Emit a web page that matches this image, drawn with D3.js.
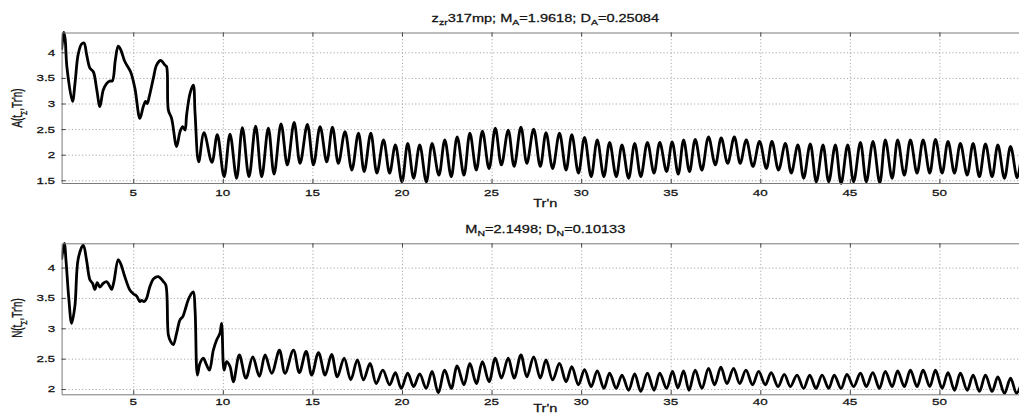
<!DOCTYPE html>
<html>
<head>
<meta charset="utf-8">
<script src="https://cdn.jsdelivr.net/npm/d3@7"></script>
<style>
  html, body { margin: 0; padding: 0; background: #fff; }
  svg { display: block; }
  text { font-family: "Liberation Sans", Arial, Helvetica, sans-serif; fill: #111; stroke: #111; stroke-width: 0.25px; }
</style>
</head>
<body>
<svg id="chart" width="1019" height="413"></svg>
<script>
// ---- data -------------------------------------------------------------
const xTicks = [5, 10, 15, 20, 25, 30, 35, 40, 45, 50];
const yTicksA = [1.5, 2, 2.5, 3, 3.5, 4];
const yTicksN = [2, 2.5, 3, 3.5, 4];

// A(tΣ, Tr'n)
const trnA = [
  1.00, 1.08, 1.13, 1.20, 1.30, 1.61, 1.75, 1.92, 2.11, 2.25, 2.40, 2.58, 2.77, 2.95, 3.14,
  3.32, 3.51, 3.70, 3.83, 4.00, 4.16, 4.30, 4.53, 4.85, 5.09, 5.37, 5.56, 5.69, 5.78, 5.89,
  6.12, 6.30, 6.53, 6.77, 6.86, 6.96, 7.14, 7.42, 7.61, 7.76, 7.89, 7.98, 8.17, 8.35, 8.45,
  8.65, 8.95, 9.39, 9.69, 10.07, 10.40, 10.77, 11.09, 11.46, 11.83, 12.17, 12.54, 12.86, 13.25, 13.60,
  13.98, 14.31, 14.72, 15.06, 15.43, 15.80, 16.12, 16.45, 16.82, 17.20, 17.57, 17.89, 18.26, 18.60, 18.97,
  19.31, 19.63, 20.00, 20.32, 20.65, 20.99, 21.36, 21.68, 22.06, 22.39, 22.75, 23.08, 23.46, 23.79, 24.15,
  24.49, 24.86, 25.21, 25.55, 25.93, 26.26, 26.64, 26.97, 27.35, 27.72, 28.04, 28.41, 28.79, 29.16, 29.48,
  29.85, 30.19, 30.56, 30.90, 31.27, 31.59, 31.96, 32.28, 32.65, 32.99, 33.33, 33.70, 34.07, 34.39, 34.77,
  35.08, 35.42, 35.72, 36.05, 36.37, 36.74, 37.11, 37.49, 37.82, 38.18, 38.55, 38.88, 39.22, 39.59, 39.96,
  40.34, 40.65, 41.02, 41.40, 41.73, 42.10, 42.42, 42.79, 43.13, 43.50, 43.82, 44.19, 44.51, 44.88, 45.21,
  45.59, 45.92, 46.29, 46.67, 46.98, 47.36, 47.67, 48.04, 48.38, 48.75, 49.09, 49.46, 49.78, 50.15, 50.48,
  50.84, 51.17, 51.55, 51.88, 52.23, 52.57, 52.94, 53.26, 53.63, 53.97, 54.34, 54.60
];
const ampA = [
  4.05, 4.30, 4.39, 4.25, 3.70, 3.04, 3.40, 3.95, 4.16, 4.18, 3.95, 3.69, 3.62, 3.30, 2.94,
  3.26, 3.39, 3.44, 3.44, 3.85, 4.12, 4.05, 3.82, 3.62, 3.30, 2.71, 2.94, 3.04, 3.00, 3.13,
  3.49, 3.75, 3.84, 3.75, 3.72, 2.87, 2.71, 2.16, 2.45, 2.55, 2.48, 2.78, 3.20, 3.36, 2.81,
  1.86, 2.43, 1.85, 2.39, 1.57, 2.40, 1.54, 2.53, 1.57, 2.56, 1.57, 2.52, 1.62, 2.60, 1.80,
  2.63, 1.83, 2.59, 1.80, 2.55, 1.86, 2.54, 1.83, 2.45, 1.70, 2.42, 1.67, 2.42, 1.64, 2.29,
  1.64, 2.19, 1.47, 2.22, 1.54, 2.19, 1.47, 2.22, 1.60, 2.29, 1.57, 2.35, 1.60, 2.42, 1.70,
  2.46, 1.73, 2.52, 1.80, 2.48, 1.77, 2.54, 1.83, 2.50, 1.77, 2.43, 1.73, 2.42, 1.70, 2.39,
  1.64, 2.34, 1.57, 2.29, 1.57, 2.24, 1.57, 2.19, 1.54, 2.22, 1.57, 2.24, 1.64, 2.24, 1.67,
  2.25, 1.62, 2.29, 1.67, 2.30, 1.70, 2.35, 1.80, 2.33, 1.83, 2.35, 1.83, 2.29, 1.77, 2.26,
  1.73, 2.26, 1.70, 2.22, 1.64, 2.19, 1.54, 2.21, 1.47, 2.19, 1.47, 2.19, 1.44, 2.19, 1.47,
  2.24, 1.47, 2.26, 1.45, 2.29, 1.54, 2.29, 1.60, 2.29, 1.64, 2.29, 1.64, 2.30, 1.64, 2.26,
  1.64, 2.22, 1.60, 2.22, 1.57, 2.21, 1.57, 2.19, 1.54, 2.16, 1.55, 2.05
];

// N(tΣ, Tr'n)
const trnN = [
  1.00, 1.15, 1.25, 1.40, 1.56, 1.74, 1.93, 2.21, 2.39, 2.58, 2.73, 2.86, 2.99, 3.14, 3.32,
  3.51, 3.66, 3.79, 3.92, 4.16, 4.29, 4.53, 4.81, 5.00, 5.19, 5.37, 5.47, 5.60, 5.74, 5.93,
  6.15, 6.40, 6.68, 6.82, 6.96, 7.09, 7.23, 7.42, 7.61, 7.76, 7.89, 8.07, 8.20, 8.35, 8.45,
  8.58, 8.72, 8.91, 9.06, 9.25, 9.47, 9.66, 9.84, 9.93, 10.07, 10.21, 10.40, 10.59, 10.92, 11.29,
  11.67, 12.04, 12.36, 12.73, 13.16, 13.47, 13.94, 14.27, 14.65, 14.96, 15.34, 15.71, 16.07, 16.39, 16.77,
  17.14, 17.51, 17.85, 18.22, 18.56, 18.93, 19.31, 19.63, 19.96, 20.32, 20.65, 20.99, 21.35, 21.68, 22.02,
  22.39, 22.75, 23.08, 23.46, 23.79, 24.15, 24.49, 24.86, 25.21, 25.55, 25.93, 26.26, 26.64, 26.97, 27.35,
  27.72, 28.04, 28.41, 28.79, 29.16, 29.48, 29.85, 30.19, 30.56, 30.90, 31.27, 31.59, 31.96, 32.28, 32.65,
  32.99, 33.33, 33.70, 34.07, 34.39, 34.77, 35.10, 35.40, 35.72, 36.02, 36.37, 36.74, 37.11, 37.45, 37.80,
  38.14, 38.51, 38.85, 39.20, 39.57, 39.91, 40.28, 40.61, 40.99, 41.34, 41.68, 42.05, 42.42, 42.76, 43.11,
  43.45, 43.82, 44.13, 44.51, 44.84, 45.21, 45.59, 45.92, 46.28, 46.65, 46.98, 47.36, 47.67, 48.04, 48.38,
  48.75, 49.09, 49.46, 49.78, 50.15, 50.48, 50.84, 51.17, 51.55, 51.88, 52.23, 52.57, 52.94, 53.26, 53.63,
  53.97, 54.30, 54.60
];
const valN = [
  4.13, 4.40, 4.10, 3.50, 3.08, 3.36, 4.15, 4.37, 4.13, 3.80, 3.74, 3.64, 3.75, 3.68, 3.74,
  3.77, 3.71, 3.64, 3.77, 4.13, 4.07, 3.85, 3.63, 3.57, 3.53, 3.44, 3.46, 3.44, 3.49, 3.69,
  3.82, 3.85, 3.77, 3.71, 2.89, 2.78, 2.73, 2.92, 3.14, 3.19, 3.30, 3.47, 3.55, 3.60, 3.30,
  2.23, 2.42, 2.51, 2.42, 2.31, 2.64, 2.81, 2.92, 3.08, 2.31, 2.45, 2.37, 2.12, 2.56, 2.18,
  2.53, 2.21, 2.56, 2.26, 2.64, 2.26, 2.64, 2.27, 2.62, 2.23, 2.60, 2.23, 2.57, 2.20, 2.51,
  2.15, 2.48, 2.15, 2.42, 2.09, 2.31, 2.07, 2.27, 2.01, 2.26, 2.04, 2.25, 2.01, 2.29, 1.94,
  2.31, 2.01, 2.38, 2.07, 2.42, 2.09, 2.45, 2.12, 2.51, 2.18, 2.51, 2.18, 2.56, 2.20, 2.53,
  2.18, 2.48, 2.15, 2.42, 2.12, 2.37, 2.07, 2.32, 2.04, 2.30, 2.01, 2.26, 2.01, 2.23, 1.98,
  2.25, 1.96, 2.26, 1.98, 2.26, 2.01, 2.29, 2.02, 2.30, 1.98, 2.31, 2.01, 2.34, 2.07, 2.36,
  2.09, 2.34, 2.09, 2.31, 2.07, 2.29, 2.07, 2.27, 2.04, 2.24, 2.04, 2.23, 2.01, 2.23, 2.01,
  2.23, 2.01, 2.23, 2.01, 2.24, 2.04, 2.26, 2.04, 2.27, 2.01, 2.29, 2.04, 2.30, 2.04, 2.31,
  2.04, 2.31, 2.04, 2.31, 2.01, 2.27, 1.98, 2.26, 1.98, 2.23, 1.96, 2.23, 1.96, 2.20, 1.93,
  2.18, 1.93, 2.12
];

// ---- layout -----------------------------------------------------------
const STRETCH = 1.4;          // horizontal widening of all glyphs
const left = 61.6, right = 1029;
const panels = [
  { top: 32.5, bottom: 183, domain: [1.447, 4.387], yTicks: yTicksA,
    xs: trnA, ys: ampA, label: "A", titleY: 18.5, tickY: 192.5, xlabY: 203.5, ylabY: 108,
    title: [["z", 0], ["zr", 1], ["317mp; M", 0], ["A", 1], ["=1.9618; D", 0], ["A", 1], ["=0.25084", 0]] },
  { top: 243.3, bottom: 394.3, domain: [1.913, 4.40], yTicks: yTicksN,
    xs: trnN, ys: valN, label: "N", titleY: 229, tickY: 401.5, xlabY: 408, ylabY: 318,
    title: [["M", 0], ["N", 1], ["=2.1498; D", 0], ["N", 1], ["=0.10133", 0]] }
];

const svg = d3.select("#chart");
const x = d3.scaleLinear().domain([1, 55]).range([left, right]);

// text with sub-scripted pieces, widened horizontally
function richText(parent, px, py, parts, size, anchor, rotate) {
  const g = parent.append("g")
    .attr("transform", `translate(${px},${py}) scale(${STRETCH},1)` + (rotate ? ` rotate(${rotate})` : ""));
  const t = g.append("text")
    .attr("text-anchor", anchor)
    .attr("font-size", size)
    .attr("dy", "0.36em");
  let shifted = false;
  parts.forEach(([s, sub]) => {
    const ts = t.append("tspan").text(s);
    if (sub && !shifted) { ts.attr("dy", size * 0.3).attr("font-size", size * 0.72); shifted = true; }
    else if (sub) { ts.attr("font-size", size * 0.72); }
    else if (shifted) { ts.attr("dy", -size * 0.3); shifted = false; }
  });
  return t;
}

panels.forEach((p, i) => {
  const y = d3.scaleLinear().domain(p.domain).range([p.bottom, p.top]);
  const h = p.bottom - p.top;
  const g = svg.append("g");

  // dotted grid
  g.append("g")
    .attr("transform", `translate(0,${p.bottom})`)
    .call(d3.axisBottom(x).tickValues(xTicks).tickSize(-h).tickFormat(""))
    .call(a => a.select(".domain").remove())
    .call(a => a.selectAll("line").attr("stroke", "#aaa").attr("stroke-dasharray", "1.2,2.2"));
  g.append("g")
    .attr("transform", `translate(${left},0)`)
    .call(d3.axisLeft(y).tickValues(p.yTicks).tickSize(-(right - left)).tickFormat(""))
    .call(a => a.select(".domain").remove())
    .call(a => a.selectAll("line").attr("stroke", "#aaa").attr("stroke-dasharray", "1.2,2.2"));

  // data line
  const clipId = "clip" + i;
  svg.append("clipPath").attr("id", clipId)
    .append("rect").attr("x", left).attr("y", p.top - 2).attr("width", right - left).attr("height", h + 4);
  const line = d3.line()
    .x((d, k) => x(p.xs[k]))
    .y((d, k) => y(p.ys[k]))
    .curve(d3.curveCatmullRom.alpha(0.5));
  g.append("path")
    .datum(p.ys)
    .attr("clip-path", `url(#${clipId})`)
    .attr("fill", "none")
    .attr("stroke", "#000")
    .attr("stroke-width", 2.8)
    .attr("stroke-linejoin", "round")
    .attr("d", line);

  // axes with inward ticks
  const tickStyle = a => {
    a.select(".domain").attr("stroke", "#7a7a7a");
    a.selectAll(".tick line").attr("stroke", "#444");
  };
  g.append("g")
    .attr("transform", `translate(0,${p.bottom})`)
    .call(d3.axisBottom(x).tickValues(xTicks).tickSizeInner(-4).tickSizeOuter(0).tickFormat(""))
    .call(tickStyle);
  g.append("g")
    .attr("transform", `translate(0,${p.top})`)
    .call(d3.axisTop(x).tickValues(xTicks).tickSizeInner(-4).tickSizeOuter(0).tickFormat(""))
    .call(tickStyle);
  g.append("g")
    .attr("transform", `translate(${left},0)`)
    .call(d3.axisLeft(y).tickValues(p.yTicks).tickSizeInner(-4).tickSizeOuter(0).tickFormat(""))
    .call(tickStyle);

  // tick labels
  xTicks.forEach(v => richText(g, x(v), p.tickY, [[String(v), 0]], 9.6, "middle"));
  p.yTicks.forEach(v => richText(g, left - 6.5, y(v), [[String(v), 0]], 9.6, "end"));

  // titles and axis labels
  richText(g, (left + right) / 2, p.titleY, p.title, 10.4, "middle");
  richText(g, (left + right) / 2, p.xlabY, [["Tr'n", 0]], 10.4, "middle");
  richText(g, 17.5, p.ylabY, [[p.label + "(t", 0], ["Σ", 1], [",Tr'n)", 0]], 9.8, "middle", -90);
});
</script>
</body>
</html>
